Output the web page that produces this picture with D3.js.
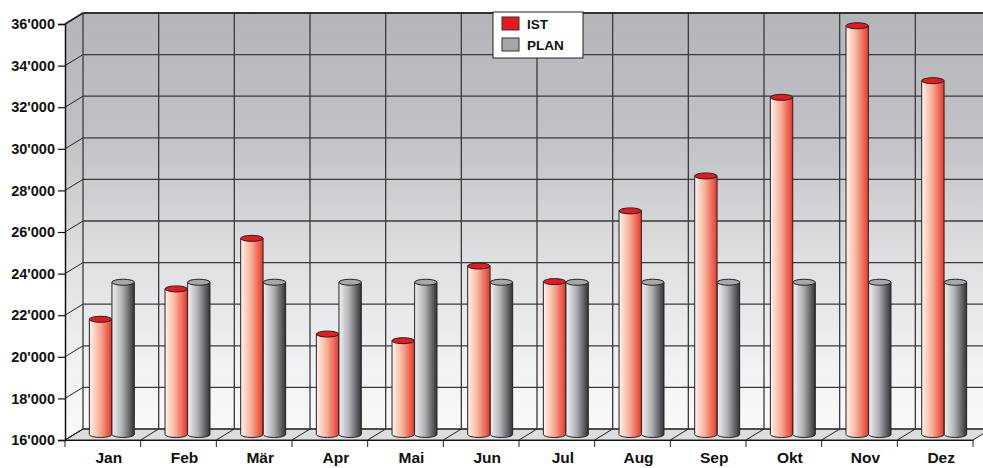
<!DOCTYPE html>
<html>
<head>
<meta charset="utf-8">
<script src="https://cdn.jsdelivr.net/npm/d3@7"></script>
<style>
  body { margin: 0; background: #fff; }
  svg text { font-family: "Liberation Sans", Arial, sans-serif; font-weight: bold; fill: #111; }
</style>
</head>
<body>
<svg id="chart" width="983" height="468"></svg>
<script>
// data
const months = ["Jan","Feb","Mär","Apr","Mai","Jun","Jul","Aug","Sep","Okt","Nov","Dez"];
const series = ["IST","PLAN"];
const ist  = [21540, 23000, 25430, 20830, 20510, 24100, 23350, 26750, 28430, 32210, 35650, 33010];
const plan = [23320, 23320, 23320, 23320, 23320, 23320, 23320, 23320, 23320, 23320, 23320, 23320];
const yTicks = [16000,18000,20000,22000,24000,26000,28000,30000,32000,34000,36000];

const svg = d3.select("#chart");
const dx = 18, dy = -11; // depth offset of the back wall

const x = d3.scaleBand().domain(months).range([65, 973]).paddingInner(0);
const y = d3.scaleLinear().domain([16000, 36000]).range([440, 24]);
const bw = x.bandwidth();
const x1 = d3.scaleBand().domain(series).range([bw*0.2, bw*0.8]).padding(0.01);

const fmt = v => d3.format(",")(v).replace(",", "'");

/* gradients */
const defs = svg.append("defs");
const wall = defs.append("linearGradient").attr("id","wall")
  .attr("gradientUnits","userSpaceOnUse").attr("x1",0).attr("y1",y(36000)+dy).attr("x2",0).attr("y2",y(16000)+dy);
[[0,"#b3b5b9"],[0.3,"#c0c2c5"],[0.6,"#dfe0e2"],[0.85,"#f1f2f3"],[1,"#f9f9f9"]].forEach(s =>
  wall.append("stop").attr("offset",s[0]).attr("stop-color",s[1]));

function hGrad(id, stops){
  const g = defs.append("linearGradient").attr("id",id).attr("x1",0).attr("x2",1).attr("y1",0).attr("y2",0);
  stops.forEach(s => g.append("stop").attr("offset",s[0]).attr("stop-color",s[1]));
}
hGrad("gIST", [[0,"#fff3ee"],[0.45,"#f7b29a"],[1,"#e8382b"]]);
hGrad("gPLAN",[[0,"#f0f1f3"],[0.45,"#b0b2b6"],[1,"#333335"]]);

const y0 = y(16000), yTop = y(36000);
const xL = x.range()[0], xR = x.range()[1];

/* back wall */
svg.append("rect").attr("x", xL+dx).attr("y", yTop+dy)
  .attr("width", xR-xL).attr("height", y0-yTop).attr("fill","url(#wall)");
/* left wall */
svg.append("path")
  .attr("d", `M${xL},${yTop} L${xL+dx},${yTop+dy} L${xL+dx},${y0+dy} L${xL},${y0} Z`)
  .attr("fill","url(#wall)");
/* floor */
svg.append("path")
  .attr("d", `M${xL},${y0} L${xL+dx},${y0+dy} L${xR+dx},${y0+dy} L${xR},${y0} Z`)
  .attr("fill","#dcdddf").attr("stroke","#222").attr("stroke-width",1);

/* grid lines */
const grid = svg.append("g").attr("stroke","#3a3a3a").attr("stroke-width",1.3).attr("fill","none");
yTicks.forEach(t => {
  grid.append("line").attr("x1", xL+dx).attr("x2", xR+dx).attr("y1", y(t)+dy).attr("y2", y(t)+dy);
  grid.append("line").attr("x1", xL).attr("x2", xL+dx).attr("y1", y(t)).attr("y2", y(t)+dy)
    .attr("stroke","#222").attr("stroke-width",1);
});
months.forEach(m => {
  grid.append("line").attr("x1", x(m)+dx).attr("x2", x(m)+dx).attr("y1", yTop+dy).attr("y2", y0+dy);
  grid.append("line").attr("x1", x(m)).attr("x2", x(m)+dx).attr("y1", y0).attr("y2", y0+dy)
    .attr("stroke","#222").attr("stroke-width",1);
});
grid.append("line").attr("x1", xL+dx).attr("x2", 983).attr("y1", yTop+dy).attr("y2", yTop+dy)
  .attr("stroke","#222").attr("stroke-width",1.5);
grid.append("line").attr("x1", xL).attr("x2", xL+dx).attr("y1", yTop).attr("y2", yTop+dy)
  .attr("stroke","#222").attr("stroke-width",1.5);

/* left axis */
const ax = svg.append("g").attr("transform", `translate(${xL},0)`)
  .call(d3.axisLeft(y).tickValues(yTicks).tickFormat(fmt).tickSize(7).tickPadding(3));
ax.select(".domain").attr("stroke","#111").attr("stroke-width",1.5);
ax.selectAll(".tick line").attr("stroke","#111").attr("stroke-width",1.2);
ax.selectAll(".tick text").attr("font-size",14.5).attr("font-family",null).attr("fill","#111");

/* bottom ticks + labels */
const bx = svg.append("g").attr("transform", `translate(0,${y0})`)
  .call(d3.axisBottom(x).tickSize(0).tickPadding(12));
bx.select(".domain").attr("stroke","#111").attr("stroke-width",1.2);
bx.selectAll(".tick text").attr("font-size",15.5).attr("font-family",null).attr("fill","#111")
  .attr("dx", 6);
months.concat(["end"]).forEach((m,i) => {
  const xx = xL + i*bw;
  svg.append("line").attr("x1", xx).attr("x2", xx).attr("y1", y0).attr("y2", y0+7)
    .attr("stroke","#222").attr("stroke-width",1);
});

/* bars as cylinders */
const rows = months.map((m,i) => ({month:m, IST: ist[i], PLAN: plan[i]}));
const ry = 3;
const bars = svg.append("g");
rows.forEach(d => {
  series.forEach(s => {
    const w = x1.bandwidth(), r = w/2;
    const cx = x(d.month) + dx/2 + x1(s) + r;
    const yt = y(d[s]) + dy/2, yb = y0 + dy/2;
    bars.append("path")
      .attr("d", `M${cx-r},${yt} L${cx-r},${yb} A${r},${ry} 0 0 0 ${cx+r},${yb} L${cx+r},${yt} Z`)
      .attr("fill", `url(#g${s})`).attr("stroke","#222").attr("stroke-width",1);
    bars.append("ellipse").attr("cx", cx).attr("cy", yt).attr("rx", r).attr("ry", ry)
      .attr("fill", s === "IST" ? "#e8191f" : "#a6a8ab").attr("stroke","#222").attr("stroke-width",1);
  });
});

/* legend */
const lg = svg.append("g").attr("transform","translate(493,12)");
lg.append("rect").attr("width",90).attr("height",46).attr("fill","#fff").attr("stroke","#222").attr("stroke-width",1);
series.forEach((s,i) => {
  lg.append("rect").attr("x",9).attr("y",5+i*21).attr("width",17).attr("height",13)
    .attr("fill", s === "IST" ? "#e8191f" : "#a3a5a8").attr("stroke","#333").attr("stroke-width",1);
  lg.append("text").attr("x",34).attr("y",16.5+i*21).attr("font-size",13.5).text(s);
});
</script>
</body>
</html>
